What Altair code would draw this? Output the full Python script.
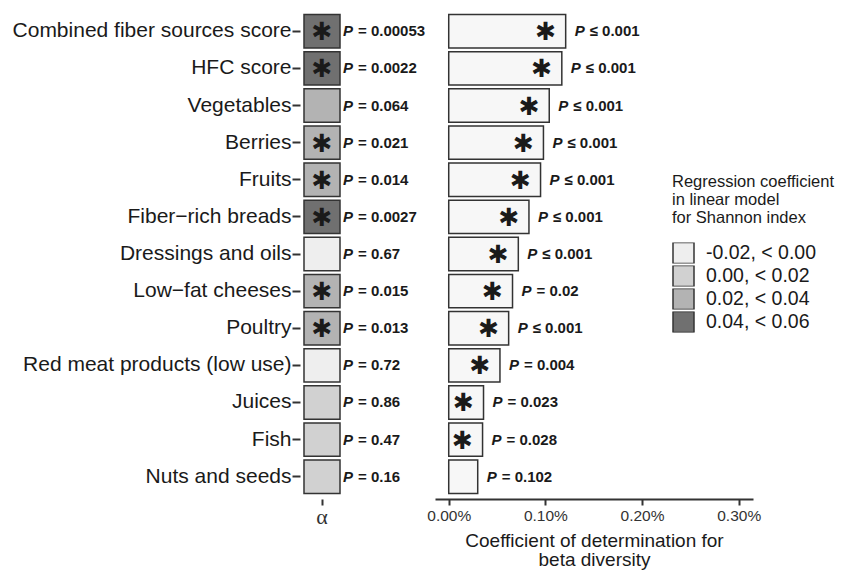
import altair as alt
import pandas as pd

FONT = "Liberation Sans"

foods = [
    "Combined fiber sources score", "HFC score", "Vegetables", "Berries", "Fruits",
    "Fiber\u2212rich breads", "Dressings and oils", "Low\u2212fat cheeses", "Poultry",
    "Red meat products (low use)", "Juices", "Fish", "Nuts and seeds",
]
alpha_class = [
    "0.04, < 0.06", "0.04, < 0.06", "0.02, < 0.04", "0.02, < 0.04", "0.02, < 0.04",
    "0.04, < 0.06", "-0.02, < 0.00", "0.02, < 0.04", "0.02, < 0.04",
    "-0.02, < 0.00", "0.00, < 0.02", "0.00, < 0.02", "0.00, < 0.02",
]
alpha_p = ["= 0.00053", "= 0.0022", "= 0.064", "= 0.021", "= 0.014", "= 0.0027", "= 0.67",
           "= 0.015", "= 0.013", "= 0.72", "= 0.86", "= 0.47", "= 0.16"]
alpha_sig = [True, True, False, True, True, True, False, True, True, False, False, False, False]

beta_r2 = [0.00121, 0.00117, 0.00104, 0.00098, 0.00095, 0.00083, 0.00072,
           0.00066, 0.00062, 0.00053, 0.00036, 0.00035, 0.00030]
beta_p = ["\u2264 0.001", "\u2264 0.001", "\u2264 0.001", "\u2264 0.001", "\u2264 0.001",
          "\u2264 0.001", "\u2264 0.001", "= 0.02", "\u2264 0.001", "=  0.004",
          "= 0.023", "= 0.028", "= 0.102"]
beta_sig = [True] * 12 + [False]

legend_classes = ["-0.02, < 0.00", "0.00, < 0.02", "0.02, < 0.04", "0.04, < 0.06"]
legend_colors = ["#eeeeee", "#d1d1d1", "#b3b3b3", "#707070"]
legend_title = ["Regression coefficient", "in linear model", "for Shannon index"]

x_ticks = [0, 0.001, 0.002, 0.003]

df = pd.DataFrame({
    "food": foods,
    "alpha_class": alpha_class,
    "alpha_p": alpha_p,
    "alpha_sig": alpha_sig,
    "beta": beta_r2,
    "beta_p": beta_p,
    "beta_sig": beta_sig,
})
df["alpha"] = "\u03b1"

INK = "#1a1a1a"
GREY = "#333333"
STAR = "\u2731"
STAR_FONT = "DejaVu Sans"
STAR_SIZE = 25
STAR_DY = 1


def yscale():
    return alt.Scale(type="band", paddingInner=0.1, paddingOuter=0.15)


ya = alt.Y(
    "food:N", sort=foods, scale=yscale(), title=None,
    axis=alt.Axis(domain=False, ticks=True, tickSize=8, tickWidth=2, tickColor=GREY,
                  labelFont=FONT, labelFontSize=21, labelColor=INK, labelPadding=1,
                  labelLimit=500, minExtent=291, maxExtent=291),
)


def xa(band_pos=None):
    kw = {}
    if band_pos is not None:
        kw["bandPosition"] = band_pos
    return alt.X(
        "alpha:N", title=None,
        scale=alt.Scale(type="band", paddingInner=0, paddingOuter=0.111),
        axis=alt.Axis(domain=False, tickSize=6, tickWidth=2, tickColor=GREY, labelAngle=0,
                      labelFont="Liberation Serif", labelFontSize=22, labelColor=GREY,
                      labelPadding=1),
        **kw,
    )


rect = alt.Chart(df).mark_rect(stroke=GREY, strokeWidth=1.5).encode(
    x=xa(), y=ya,
    fill=alt.Fill(
        "alpha_class:N",
        scale=alt.Scale(domain=legend_classes, range=legend_colors),
        legend=alt.Legend(
            title=legend_title, orient="none", legendX=372, legendY=165,
            titleFont=FONT, titleFontSize=16.5, titleFontWeight="normal", titleColor=INK,
            titleLineHeight=18, titlePadding=16, titleAnchor="start",
            labelFont=FONT, labelFontSize=19.5, labelColor=INK, labelOffset=11,
            symbolType="square", symbolSize=441, symbolStrokeColor=GREY,
            symbolStrokeWidth=1.5, symbolOpacity=1, rowPadding=2, padding=0,
            clipHeight=21,
        ),
    ),
)

star_a = alt.Chart(df).transform_filter("datum.alpha_sig").mark_text(
    text=STAR, font=STAR_FONT, fontSize=STAR_SIZE, baseline="middle",
    dy=STAR_DY, color=INK,
).encode(x=xa(), y=ya)

pa1 = alt.Chart(df).mark_text(
    text="P", font=FONT, fontWeight="bold", fontStyle="italic", fontSize=15,
    align="left", baseline="middle", dx=3, color=INK,
).encode(x=xa(1), y=ya)

pa2 = alt.Chart(df).mark_text(
    font=FONT, fontWeight="bold", fontSize=15, align="left", baseline="middle",
    dx=18, color=INK,
).encode(x=xa(1), y=ya, text="alpha_p:N")

left = alt.layer(rect, star_a, pa1, pa2).properties(width=44, height=490)

yb = alt.Y("food:N", sort=foods, scale=yscale(), axis=None, title=None)
xb = alt.X(
    "beta:Q",
    scale=alt.Scale(domain=[-0.000142, 0.003148], nice=False),
    title=["Coefficient of determination for", "beta diversity"],
    axis=alt.Axis(values=x_ticks, format=".2%", grid=False, domain=True, domainColor=GREY,
                  domainWidth=2, tickColor=GREY, tickWidth=2, tickSize=6,
                  labelFont=FONT, labelFontSize=15.5, labelColor=GREY, labelPadding=3,
                  titleFont=FONT, titleFontSize=19, titleFontWeight="normal",
                  titleColor=INK, titleLineHeight=19, titlePadding=8),
)

bars = alt.Chart(df).mark_bar(fill="#f7f7f7", stroke=GREY, strokeWidth=1.5).encode(
    x=xb, y=yb
)

star_b = alt.Chart(df).transform_filter("datum.beta_sig").mark_text(
    text=STAR, font=STAR_FONT, fontSize=STAR_SIZE, baseline="middle",
    align="center", dx=-20, dy=STAR_DY, color=INK,
).encode(x=xb, y=yb)

pb1 = alt.Chart(df).mark_text(
    text="P", font=FONT, fontWeight="bold", fontStyle="italic", fontSize=15,
    align="left", baseline="middle", dx=9, color=INK,
).encode(x=xb, y=yb)

pb2 = alt.Chart(df).mark_text(
    font=FONT, fontWeight="bold", fontSize=15, align="left", baseline="middle",
    dx=24, color=INK,
).encode(x=xb, y=yb, text="beta_p:N")

right = alt.layer(bars, star_b, pb1, pb2).properties(width=318, height=490)

chart = (
    alt.hconcat(left, right, spacing=91, bounds="flush")
    .resolve_scale(color="independent", y="independent", x="independent")
    .properties(padding={"left": 0, "top": 0, "right": 5, "bottom": 5})
    .configure(font=FONT)
    .configure_view(stroke="transparent")
)

chart.save("out.html", embed_options={"renderer": "svg", "actions": False})
